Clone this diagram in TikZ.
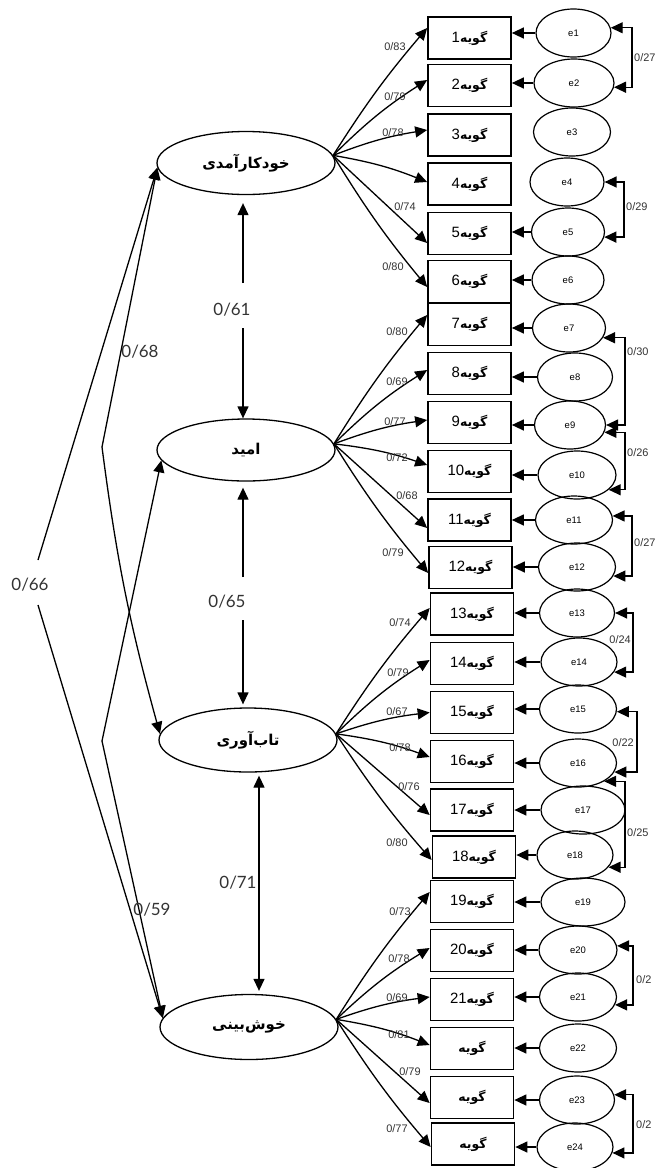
\documentclass[tikz,border=0pt]{standalone}
\usepackage{fontspec}
\setmainfont{Liberation Sans}
\newfontfamily\ar[Script=Arabic]{DejaVu Sans}
\newfontfamily\lato{Lato}
\usetikzlibrary{shapes.geometric,arrows.meta,calc}
\TeXXeTstate=1
\definecolor{lab}{HTML}{333333}
\newcommand\itm[1]{{\ar\bfseries\fontsize{12.5}{13}\selectfont\beginR گویه\beginL{\normalfont\fontsize{15}{15}\selectfont #1}\endL\endR}}
\newcommand\lat[1]{{\ar\bfseries\fontsize{15}{16}\selectfont\beginR #1\endR}}
\begin{document}
\begin{tikzpicture}[x=1bp,y=-1bp,
 tri/.style={-{Triangle[length=12bp,width=11bp]}},
 dtri/.style={{Triangle[length=12bp,width=11bp]}-{Triangle[length=12bp,width=11bp]}},
 latent/.style={ellipse,draw,line width=1.3bp,minimum width=178bp,minimum height=63bp,inner sep=0pt},
 item/.style={rectangle,draw,line width=1.7bp,minimum width=83bp,minimum height=42bp,inner sep=0pt},
 err/.style={ellipse,draw,line width=1.2bp,minimum height=48bp,inner sep=0pt,font=\fontsize{9.5}{10}\selectfont},
 conn/.style={line width=1.3bp},
 lo/.style={font=\fontsize{11}{12}\selectfont,text=lab,inner sep=0pt},
 big/.style={font=\lato\fontsize{17}{18}\selectfont,text=lab,inner sep=0pt}]
\useasboundingbox (0,0) rectangle (656,1168);
% latent factors
\node[latent] (F1) at (246,163) {\lat{خودکارآمدی}};
\node[latent,minimum height=62bp] (F2) at (246,450) {\lat{امید}};
\node[latent,minimum height=64bp] (F3) at (248,740) {\lat{تاب‌آوری}};
\node[latent,minimum height=65bp] (F4) at (249,1027) {\lat{خوش‌بینی}};
% items
\foreach \i/\x/\y in {1/469.5/38,2/469.5/85.5,3/469.5/135,4/469.5/184,5/469.5/233.5,6/469.5/281.5,7/469.5/324.5,8/469.5/373.5,9/469.5/422.5,10/469.5/471.5,11/469.5/520,12/470.5/567.5,13/472/614,14/472/663.5,15/472/712.5,16/472/761.5,17/472/810,18/474/857,19/472/901.5,20/472/950.5,21/472/999.5}
  \node[item] (b\i) at (\x,\y) {\itm{\i}};
\foreach \i/\x/\y in {22/472/1048.5,23/472/1097.5,24/473/1144}
  \node[item] (b\i) at (\x,\y) {\itm{}};
% errors
\foreach \i/\x/\y/\w in {1/573.5/33/75,2/574/83/80,3/572/132/77,4/567/182/74,5/568/232/73,6/568/280/72,7/569/328/73,8/575/377/75,9/570/425/71,10/577/475/78,11/574/520/77,12/577/567/77,13/577/613/75,14/579/662/76,15/578/709/77,16/578/763/77,17/583/810/84,18/575/855/76,19/583/902/84,20/578/950/78,21/578/997/77,22/578/1048/77,23/577/1100/75,24/575/1147/76}
  \node[err,minimum width=\w bp] (e\i) at (\x,\y) {e\i};
\foreach \i in {1,2,5,6,7,8,9,10,11,12,13,14,15,16,17,18,19,20,21,22,23,24}
  \draw[conn,tri] (e\i.west) -- (e\i.west -| b\i.east);
% loadings
\foreach \f/\a/\s in {F1/5/{1/10/left/4,2/5.5/left/6,3/5/left/6,4/2/left/6,5/-9.5/left/0,6/-5.5/right/4},
                      F2/4/{7/9.5/left/4,8/3.5/left/6,9/2.5/left/6,10/6.5/left/6,11/-8/left/0,12/-5.5/right/4},
                      F3/4/{13/6/left/4,14/3.5/left/6,15/0/left/6,16/4.5/left/6,17/-5/left/0,18/-3/right/4},
                      F4/5/{19/9.5/left/4,20/2.5/left/6,21/2.5/left/6,22/3.5/left/6,23/-5.5/left/0,24/-3/right/4}}
  \foreach \b/\d/\side/\bend in \s
    \draw[conn,tri] (\f.\a) to[bend \side=\bend] ([yshift=\d bp]b\b.west);
\foreach \n/\x/\y/\t in {a/395/47/0\slash 83,b/395/97/0\slash 79,c/393/133/0\slash 78,d/405/207/0\slash 74,e/393/267/0\slash 80,
  f/397/332/0\slash 80,g/397/382/0\slash 69,h/395/422/0\slash 77,i/397/458/0\slash 72,j/407/496/0\slash 68,k/393/553/0\slash 79,
  l/400/623/0\slash 74,m/398/673/0\slash 79,n/397/712/0\slash 67,o/400/748/0\slash 78,p/409/787/0\slash 76,q/397/843/0\slash 80,
  r/400/912/0\slash 73,s/399/959/0\slash 78,t/397/998/0\slash 69,u/399/1035/0\slash 81,v/410/1072/0\slash 79,w/397/1129/0\slash 77}
  \node[lo] (L\n) at (\x,\y) {\t};
% error covariances
\foreach \p/\q/\k/\t/\lx/\ly/\an in {e1.8/e2.-6/632/0\slash 27/634/58/west,
   e4.0/e5.-8/624/0\slash 29/626/207/west,
   e7.-16/e9.0/625/0\slash 30/627/352/west,
   e9.-12/e10.-25/625/0\slash 26/627/453/west,
   e11.6/e12.-14/632/0\slash 27/634/543/west,
   e13.0/e14.-16/633/0\slash 24/631/640/east,
   e15.-4/e16.-14/637/0\slash 22/634/743/east,
   e16.-35/e18.-20/625/0\slash 25/627/833/west,
   e20.6/e21.-12/633/0\slash 2/636/980/west,
   e23.8/e24.-9/633/0\slash 2/636/1125/west}{
  \coordinate (kx) at (\k,0);
  \draw[conn,dtri] (\p) -- (\p -| kx) |- (\q);
  \node[lo,anchor=\an] at (\lx,\ly) {\t};
}
% factor correlations
\coordinate (g61a) at (243,283); \coordinate (g61b) at (243,328);
\draw[conn,tri] (g61a) -- ([yshift=-8bp]g61a |- F1.south);
\draw[conn,tri] (g61b) -- (g61b |- F2.north);
\coordinate (g65a) at (243,577); \coordinate (g65b) at (243,620);
\draw[conn,tri] (g65a) -- ([yshift=-6bp]g65a |- F2.south);
\draw[conn,tri] (g65b) -- ([yshift=3bp]g65b |- F3.north);
\coordinate (v71) at (259,883);
\draw[conn,dtri] ([yshift=-3bp]v71 |- F3.south) -- ([yshift=3bp]v71 |- F4.north);
\coordinate (k68) at (102,447);
\coordinate (k59) at (102,741);
\coordinate (g66a) at (38,560); \coordinate (g66b) at (38,605);
\draw[conn,tri] (k68) -- (F1.183);
\draw[conn,tri] (k68) to[bend right=4] (F3.176);
\draw[conn,tri] (k59) -- (F2.187);
\draw[conn,tri] (k59) -- (F4.174);
\draw[conn,tri] (g66a) -- (F1.183);
\draw[conn,tri] (g66b) -- (F4.174);
\node[big] (l61) at (232,310) {0/61};
\node[big] (l65) at (227,602) {0/65};
\node[big] (l71) at (238,883) {0/71};
\node[big] (l66) at (30,585) {0/66};
\node[big] (l68) at (140,352) {0/68};
\node[big] (l59) at (152,910) {0/59};
\end{tikzpicture}
\end{document}
